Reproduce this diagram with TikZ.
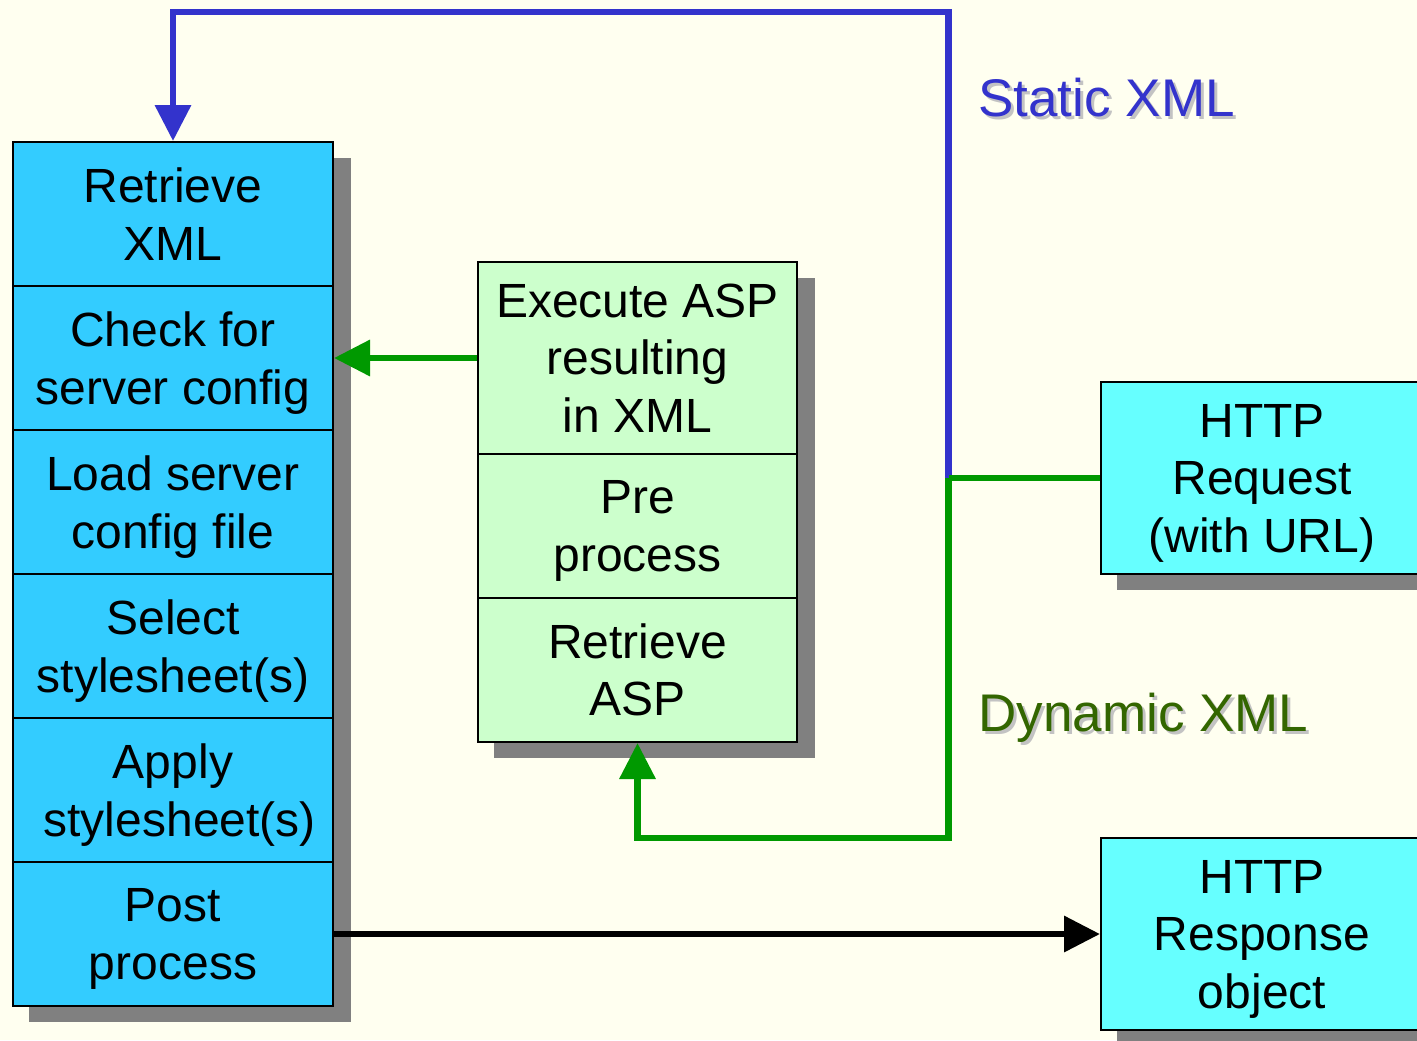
\documentclass[tikz,border=0pt]{standalone}
\usepackage{fontspec}
\setmainfont{Liberation Sans}
\usetikzlibrary{arrows.meta}
\definecolor{bg}{RGB}{255,255,240}
\definecolor{cellblue}{RGB}{51,204,255}
\definecolor{cellcyan}{RGB}{102,255,255}
\definecolor{cellgreen}{RGB}{204,255,204}
\definecolor{shadowgray}{RGB}{128,128,128}
\definecolor{lineblue}{RGB}{51,51,204}
\definecolor{linegreen}{RGB}{0,153,0}
\definecolor{labelgreen}{RGB}{51,102,0}
\definecolor{labelshadow}{RGB}{195,195,195}
\begin{document}
\begin{tikzpicture}[x=0.5pt,y=-0.5pt,
  cell/.style={draw=black,line width=1pt,inner sep=0pt,align=center,
    font=\fontsize{24}{28.75}\selectfont},
  leftcell/.style={cell,fill=cellblue,minimum width=160pt,minimum height=72pt},
  midcell/.style={cell,fill=cellgreen,minimum width=159.5pt,minimum height=72pt},
  httpcell/.style={cell,fill=cellcyan,minimum width=161pt,minimum height=96pt},
  shadowbox/.style={fill=shadowgray},
  conn/.style={line width=3.3pt},
  tip/.style={-{Triangle[length=18pt,width=17.5pt]}},
  label/.style={anchor=base west,inner sep=0pt,font=\fontsize{26.5}{32}\selectfont},
]
\useasboundingbox (0,0) rectangle (1417,1040);
\clip (0,0) rectangle (1417,1040);
\fill[bg] (0,0) rectangle (1417,1040);

% shadows
\fill[shadowbox] (29,158) rectangle (351,1022);
\fill[shadowbox] (494,278) rectangle (815,758);
\fill[shadowbox] (1117,398) rectangle (1445,590);
\fill[shadowbox] (1117,854) rectangle (1445,1046);

% left column
\node[leftcell] (ret)   at (173,214) {Retrieve\\XML};
\node[leftcell] (check) at (173,358) {Check for\\\smash{server config}};
\node[leftcell] (load)  at (173,502) {Load server\\\smash{config file}};
\node[leftcell] (sel)   at (173,646) {Select\\\smash{stylesheet(s)}};
\node[leftcell] (apply) at (173,790) {Apply\\\smash{\hspace*{0.278em}stylesheet(s)}};
\node[leftcell] (post)  at (173,934) {Post\\\smash{process}};

% middle column
\node[midcell,minimum height=96pt] (exec) at (637.5,358) {Execute ASP\\resulting\\in XML};
\node[midcell] (pre)  at (637.5,526) {Pre\\\smash{process}};
\node[midcell] (rasp) at (637.5,670) {Retrieve\\ASP};

% http boxes
\node[httpcell] (req)  at (1262,478) {HTTP\\Request\\\smash{(with URL)}};
\node[httpcell] (resp) at (1262,934) {HTTP\\Response\\\smash{object}};

% labels
\node[label,text=labelshadow] (statsh) at (981,119) {Static XML};
\node[label,text=lineblue] (stat) at (978,116) {Static XML};
\node[label,text=labelshadow] (dynsh) at (981,734) {Dynamic XML};
\node[label,text=labelgreen] (dyn) at (978,731) {Dynamic XML};

% connectors
\coordinate (j) at (948.5,478);
\coordinate (top) at (948.5,12);
\coordinate (bot) at (948.5,838);
\draw[conn,lineblue,tip] (j) -- (top) -| (ret.north);
\draw[conn,linegreen] (req.west) -- (j);
\draw[conn,linegreen,tip] (j) -- (bot) -| (rasp.south);
\draw[conn,linegreen,tip] (exec.west) -- (check.east);
\draw[conn,black,tip] (post.east) -- (resp.west);
\end{tikzpicture}
\end{document}
